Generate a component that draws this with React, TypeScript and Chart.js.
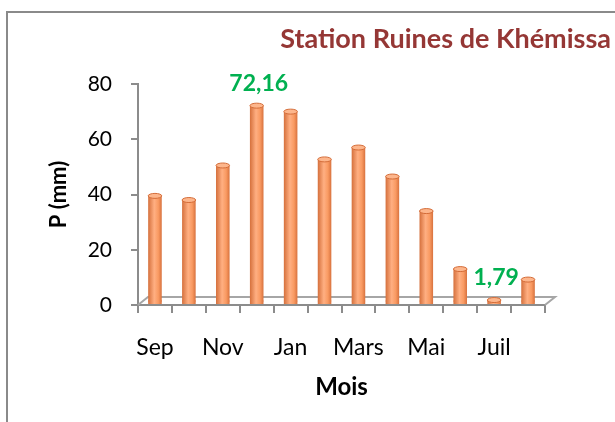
import React, { useEffect, useRef } from "react";
import { Chart, registerables } from "chart.js";

Chart.register(...registerables);

const months = ["Sep", "Oct", "Nov", "Déc", "Jan", "Fév", "Mars", "Avr", "Mai", "Juin", "Juil", "Août"];
const precip = [39.5, 38, 50.5, 72.16, 70, 52.7, 57, 46.5, 34, 13, 1.79, 9.2];
const yTickValues = [0, 20, 40, 60, 80];
const chartTitle = "Station Ruines de Khémissa";
const yTitle = "P (mm)";
const xTitle = "Mois";

const FONT = "Lato, 'Open Sans', sans-serif";
const AXIS_GRAY = "#8C8C8C";
const BAR_PCT = 0.4;

const fmt = (v: number) => v.toFixed(2).replace(/0$/, "").replace(".", ",");

const maxIdx = precip.indexOf(Math.max(...precip));
const minIdx = precip.indexOf(Math.min(...precip));
const labelled = [maxIdx, minIdx];

const decorPlugin = {
  id: "decor",
  beforeDatasetsDraw(chart: any) {
    const { ctx, chartArea } = chart;
    const { left, right, bottom } = chartArea;
    const dx = 10, dy = 8;
    ctx.save();
    ctx.strokeStyle = "#A6A6A6";
    ctx.lineWidth = 2;
    ctx.beginPath();
    ctx.moveTo(left, bottom);
    ctx.lineTo(left + dx, bottom - dy);
    ctx.lineTo(right + dx, bottom - dy);
    ctx.lineTo(right, bottom);
    ctx.stroke();
    const meta = chart.getDatasetMeta(0);
    meta.data.forEach((el: any) => {
      const { x, base, width } = el.getProps(["x", "base", "width"], true);
      ctx.fillStyle = "#E98250";
      ctx.beginPath();
      ctx.ellipse(x, base - 3, width / 2, 3, 0, 0, Math.PI * 2);
      ctx.fill();
    });
    ctx.restore();
  },
  afterDatasetsDraw(chart: any) {
    const { ctx } = chart;
    const meta = chart.getDatasetMeta(0);
    ctx.save();
    meta.data.forEach((el: any, i: number) => {
      const { x, y, width } = el.getProps(["x", "y", "width"], true);
      ctx.fillStyle = "#FDB68C";
      ctx.strokeStyle = "#D46C38";
      ctx.lineWidth = 1;
      ctx.beginPath();
      ctx.ellipse(x, y, width / 2, 2.5, 0, 0, Math.PI * 2);
      ctx.fill();
      ctx.stroke();
      if (labelled.includes(i)) {
        ctx.fillStyle = "#00B050";
        ctx.font = `bold 23px ${FONT}`;
        ctx.textAlign = "center";
        ctx.textBaseline = "middle";
        ctx.fillText(fmt(precip[i]), x + 2, y - 22);
      }
    });
    ctx.fillStyle = "#953735";
    ctx.font = `bold 27px ${FONT}`;
    ctx.textAlign = "right";
    ctx.textBaseline = "middle";
    ctx.fillText(chartTitle, chart.width - 4, 39);
    ctx.restore();
  },
};

export default function App() {
  const ref = useRef<HTMLCanvasElement | null>(null);

  useEffect(() => {
    if (!ref.current) return;
    const chart = new Chart(ref.current, {
      type: "bar",
      data: {
        labels: months,
        datasets: [
          {
            data: precip,
            barPercentage: BAR_PCT,
            categoryPercentage: 1,
            borderWidth: 0,
            backgroundColor: (c: any) => {
              const ch = c.chart;
              const xs = ch.scales && ch.scales.x;
              if (!xs || c.dataIndex === undefined) return "#F79B63";
              const cx = xs.getPixelForValue(c.dataIndex);
              const half = (xs.width / months.length) * BAR_PCT / 2;
              if (!isFinite(cx) || !isFinite(half) || half <= 0) return "#F79B63";
              const g = ch.ctx.createLinearGradient(cx - half, 0, cx + half, 0);
              g.addColorStop(0, "#D5703C");
              g.addColorStop(0.45, "#FFAF82");
              g.addColorStop(0.75, "#F99A62");
              g.addColorStop(1, "#D8723E");
              return g;
            },
          },
        ],
      },
      options: {
        responsive: false,
        animation: false,
        devicePixelRatio: 1,
        layout: { padding: { left: 8, right: 70, top: 84, bottom: 0 } },
        plugins: {
          legend: { display: false },
          tooltip: { enabled: false },
          title: { display: false },
        },
        scales: {
          x: {
            afterFit: (s: any) => {
              s.height = 117;
            },
            border: { display: true, color: AXIS_GRAY, width: 2 },
            grid: {
              offset: true,
              drawOnChartArea: false,
              drawTicks: true,
              tickLength: 8,
              color: AXIS_GRAY,
              lineWidth: 2,
            },
            ticks: {
              autoSkip: false,
              maxRotation: 0,
              padding: 21,
              color: "#000",
              font: { family: FONT, size: 23 },
              callback: (_v: any, i: number) => (i % 2 === 0 ? months[i] : ""),
            },
            title: {
              display: true,
              text: xTitle,
              color: "#000",
              font: { family: FONT, size: 24, weight: "bold" },
              padding: { top: 0, bottom: 20 },
            },
          },
          y: {
            min: 0,
            max: 80,
            afterFit: (s: any) => {
              s.width = 130;
            },
            afterBuildTicks: (s: any) => {
              s.ticks = yTickValues.map((v) => ({ value: v }));
            },
            border: { display: true, color: AXIS_GRAY, width: 2 },
            grid: {
              drawOnChartArea: false,
              drawTicks: true,
              tickLength: 7,
              color: AXIS_GRAY,
              lineWidth: 2,
            },
            ticks: {
              padding: 19,
              color: "#000",
              font: { family: FONT, size: 21 },
            },
            title: {
              display: true,
              text: yTitle,
              color: "#000",
              font: { family: FONT, size: 22, weight: "bold" },
              padding: { top: 38, bottom: 0 },
            },
          },
        },
      },
      plugins: [decorPlugin],
    });
    return () => chart.destroy();
  }, []);

  return (
    <div style={{ position: "absolute", left: 0, top: 0, width: 615, height: 422, overflow: "hidden", background: "#fff" }}>
      <div
        style={{
          position: "absolute",
          left: 6,
          top: 11,
          width: 609,
          height: 411,
          borderLeft: "2px solid #8A8A8A",
          borderTop: "2px solid #8A8A8A",
          boxSizing: "border-box",
        }}
      />
      <canvas ref={ref} width={615} height={422} style={{ position: "absolute", left: 0, top: 0 }} />
    </div>
  );
}
